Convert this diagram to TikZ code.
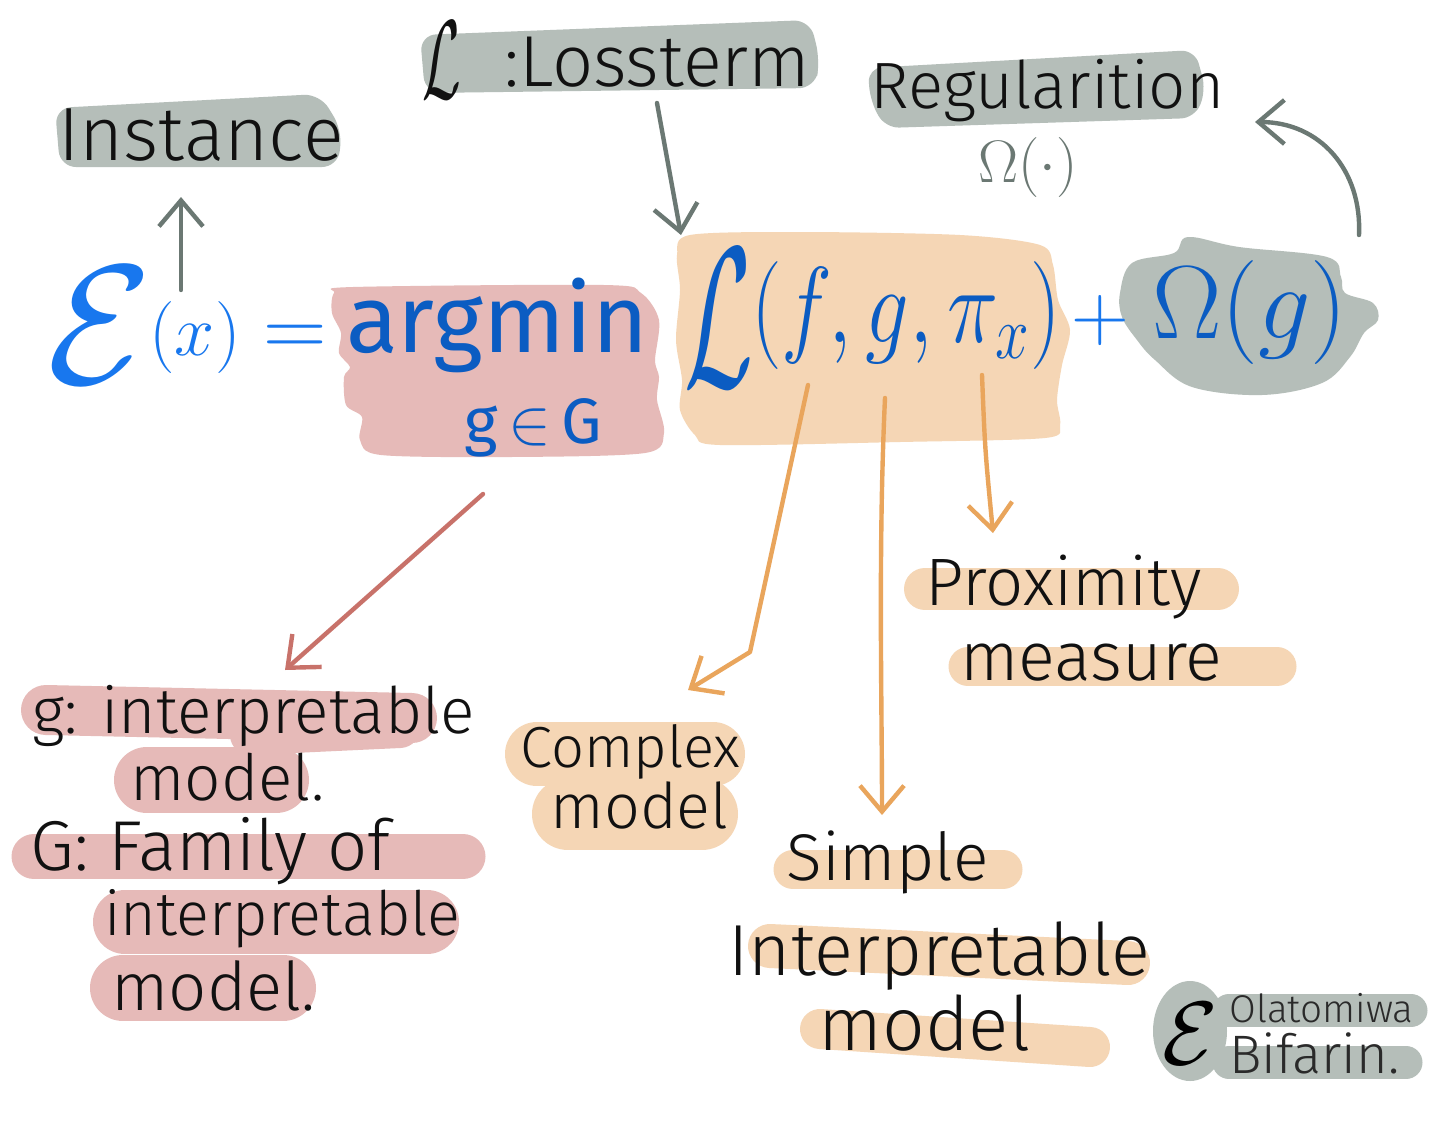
\RequirePackage{fix-cm}
\documentclass[tikz,border=0pt]{standalone}
\usepackage{fontspec}
\setmainfont{Fira Sans}[UprightFont={* Light}]
\newfontfamily\formfont{Fira Sans}
\usetikzlibrary{arrows.meta}
\definecolor{hlgray}{HTML}{B5BEB9}
\definecolor{hlpink}{HTML}{E6BAB8}
\definecolor{hlpeach}{HTML}{F5D6B5}
\definecolor{bluel}{HTML}{1877EE}
\definecolor{blued}{HTML}{0B5CC2}
\definecolor{arrgray}{HTML}{6B7873}
\definecolor{arrred}{HTML}{C8726A}
\definecolor{arrorange}{HTML}{E9A55C}
\definecolor{inkc}{HTML}{111111}
\definecolor{sigink}{HTML}{2A2A2A}
\newcommand{\fsz}[1]{\fontsize{#1pt}{#1pt}\selectfont}
\newcommand{\fitw}[2]{\resizebox{#1}{!}{\fsz{40}#2}}
\begin{document}
\begin{tikzpicture}[x=0.5pt,y=-0.5pt,
  ink/.style={text=inkc,inner sep=0pt},
  hl/.style={line cap=round,line join=round},
  arr/.style={line width=2.2pt,line cap=round,line join=round,
    -{Straight Barb[length=13pt,width=22pt,line width=2.2pt]}}]
\useasboundingbox (0,0) rectangle (1456,1125);
\fill[white] (0,0) rectangle (1456,1125);

% ---------- highlight blobs ----------
\fill[hlgray,rounded corners=8pt] (55,108) -- (320,94) -- (342,130) -- (338,167) -- (60,167) -- cycle;
\fill[hlgray,rounded corners=8pt] (420,35) -- (810,20) -- (820,60) -- (815,88) -- (425,93) -- cycle;
\fill[hlgray,rounded corners=7pt] (868,68) -- (1195,50) -- (1206,90) -- (1195,118) -- (885,128) -- (870,100) -- cycle;
\fill[hlgray] plot[smooth cycle,tension=0.6] coordinates {(1120,293) (1132,263) (1174,253) (1188,237) (1239,247) (1327,257) (1341,277) (1345,293) (1373,303) (1378,320) (1364,333) (1350,357) (1322,383) (1262,395) (1192,387) (1155,360) (1137,340) (1122,317)};
\fill[hlpink] plot[smooth cycle,tension=0.5] coordinates {(334,293) (353,287) (604,285) (641,293) (659,320) (655,360) (659,377) (657,400) (664,433) (645,453) (511,457) (381,455) (360,440) (362,417) (346,405) (344,377) (350,367) (339,353) (341,333) (332,313)};
\fill[hlpeach] plot[smooth cycle,tension=0.5] coordinates {(690,235) (800,232) (960,235) (1040,245) (1053,265) (1058,300) (1070,330) (1062,365) (1057,400) (1060,425) (1045,438) (900,442) (720,445) (695,435) (680,410) (682,380) (676,340) (680,290) (677,255)};

\draw[hl,hlpink,line width=25pt] (46,710) -- (412,718);
\draw[hl,hlpink,line width=20pt] (250,735) -- (400,728);
\draw[hl,hlpink,line width=33pt] (147,780) -- (276,780);
\draw[hl,hlpink,line width=22.5pt] (34,856.5) -- (463,856.5);
\draw[hl,hlpink,line width=32pt] (125,922) -- (427,922);
\draw[hl,hlpink,line width=33pt] (123,988) -- (283,988);

\draw[hl,hlpeach,line width=32pt] (537,754) -- (713,754);
\draw[hl,hlpeach,line width=36pt] (568,814) -- (702,814);
\draw[hl,hlpeach,line width=21pt] (925,589) -- (1218,589);
\draw[hl,hlpeach,line width=19.5pt] (968,666.5) -- (1277,666.5);
\draw[hl,hlpeach,line width=19.5pt] (793,869.5) -- (1003,869.5);
\draw[hl,hlpeach,line width=22pt] (770,946) -- (1128,963);
\draw[hl,hlpeach,line width=20pt] (820,1029) -- (1090,1047);

\fill[hlgray] (1190,1031) ellipse [x radius=37,y radius=50];
\draw[hl,hlgray,line width=16.5pt] (1229,1010.5) -- (1411,1010.5);
\draw[hl,hlgray,line width=16.5pt] (1229,1062.5) -- (1406,1062.5);

% ---------- formula ----------
\node[text=bluel,inner sep=0pt] (E) at (100,325) {\fsz{85}$\mathcal{E}$};
\node[text=bluel,inner sep=0pt] (Ex) at (195,337) {\fsz{36}$(x)$};
\node[text=bluel,inner sep=0pt] (eq) at (295,341) {\fsz{44}$=$};
\node[text=blued,inner sep=0pt,anchor=base] (argmin) at (497,352) {\resizebox{151pt}{!}{\formfont\fsz{50}argmin}};
\node[text=blued,inner sep=0pt] (gG) at (533,428) {\resizebox{69pt}{!}{\formfont\fsz{34}g\,$\in$\,G}};
\node[text=blued,inner sep=0pt] (L) at (719,318) {\scalebox{0.5}[1]{\fsz{100}$\mathcal{L}$}};
\node[text=blued,inner sep=0pt] (args) at (906,315) {\scalebox{0.8}[1]{\fsz{54}$(f,g,\pi_x)$}};
\node[text=bluel,inner sep=0pt] (plus) at (1100,320) {\fsz{40}$+$};
\node[text=blued,inner sep=0pt] (Om) at (1250,312) {\fsz{52}$\Omega(g)$};

% ---------- labels ----------
\node[ink,anchor=base west] (inst) at (58,160) {\fitw{142.5pt}{Instance}};
\node[ink,anchor=base west] (lossL) at (422,98) {\scalebox{0.5}[1]{\fsz{56}$\mathcal{L}$}};
\node[ink,anchor=base west] (loss) at (504,86) {\fitw{153pt}{:Lossterm}};
\node[ink,anchor=base west] (reg) at (870,108) {\fitw{177pt}{Regularition}};
\node[text=arrgray,inner sep=0pt] (regom) at (1028,167) {\fsz{30}$\Omega(\cdot)$};

\node[ink,anchor=base west] (g1) at (32,733) {\fitw{221pt}{g: interpretable}};
\node[ink,anchor=base west] (g2) at (130,800) {\fitw{97pt}{model.}};
\node[ink,anchor=base west] (G1) at (30,870) {\fitw{180pt}{G: Family of}};
\node[ink,anchor=base west] (G2) at (104,935) {\fitw{178pt}{interpretable}};
\node[ink,anchor=base west] (G3) at (111,1010) {\fitw{102pt}{model.}};

\node[ink,anchor=base west] (c1) at (520,767) {\fitw{110pt}{Complex}};
\node[ink,anchor=base west] (c2) at (550,828) {\fitw{89pt}{model}};

\node[ink,anchor=base west] (p1) at (925,605) {\fitw{138pt}{Proximity}};
\node[ink,anchor=base west] (p2) at (960,680) {\fitw{131pt}{measure}};

\node[ink,anchor=base west] (s1) at (786,880) {\fitw{101pt}{Simple}};
\node[ink,anchor=base west] (s2) at (728,975) {\fitw{211pt}{Interpretable}};
\node[ink,anchor=base west] (s3) at (818,1050) {\fitw{106pt}{model}};

\node[text=black,inner sep=0pt] (sigE) at (1190,1034) {\fsz{45}$\mathcal{E}$};
\node[text=sigink,inner sep=0pt,anchor=base west] (sig1) at (1229,1022) {\fitw{92pt}{Olatomiwa}};
\node[text=sigink,inner sep=0pt,anchor=base west] (sig2) at (1229,1073) {\fitw{85pt}{Bifarin.}};

% ---------- connectors ----------
\coordinate (a1s) at (181,290); \coordinate (a1e) at (181,197);
\draw[arr,arrgray] (a1s) -- (a1e);
\coordinate (a2s) at (657,103); \coordinate (a2e) at (681,235);
\draw[arr,arrgray] (a2s) -- (a2e);
\coordinate (a3s) at (1359,235); \coordinate (a3e) at (1255,122);
\draw[arr,arrgray] (a3s) .. controls (1362,170) and (1320,122) .. (a3e);
\coordinate (a4s) at (483,494); \coordinate (a4e) at (285,670);
\draw[arr,arrred] (a4s) -- (a4e);
\coordinate (a5s) at (808,385); \coordinate (a5m) at (750,652); \coordinate (a5e) at (688,690);
\draw[arr,arrorange] (a5s) -- (a5m) -- (a5e);
\coordinate (a6s) at (885,398); \coordinate (a6e) at (882,815);
\draw[arr,arrorange] (a6s) .. controls (878,550) and (882,700) .. (a6e);
\coordinate (a7s) at (982,375); \coordinate (a7e) at (993,533);
\draw[arr,arrorange] (a7s) .. controls (985,450) .. (a7e);
\end{tikzpicture}
\end{document}
